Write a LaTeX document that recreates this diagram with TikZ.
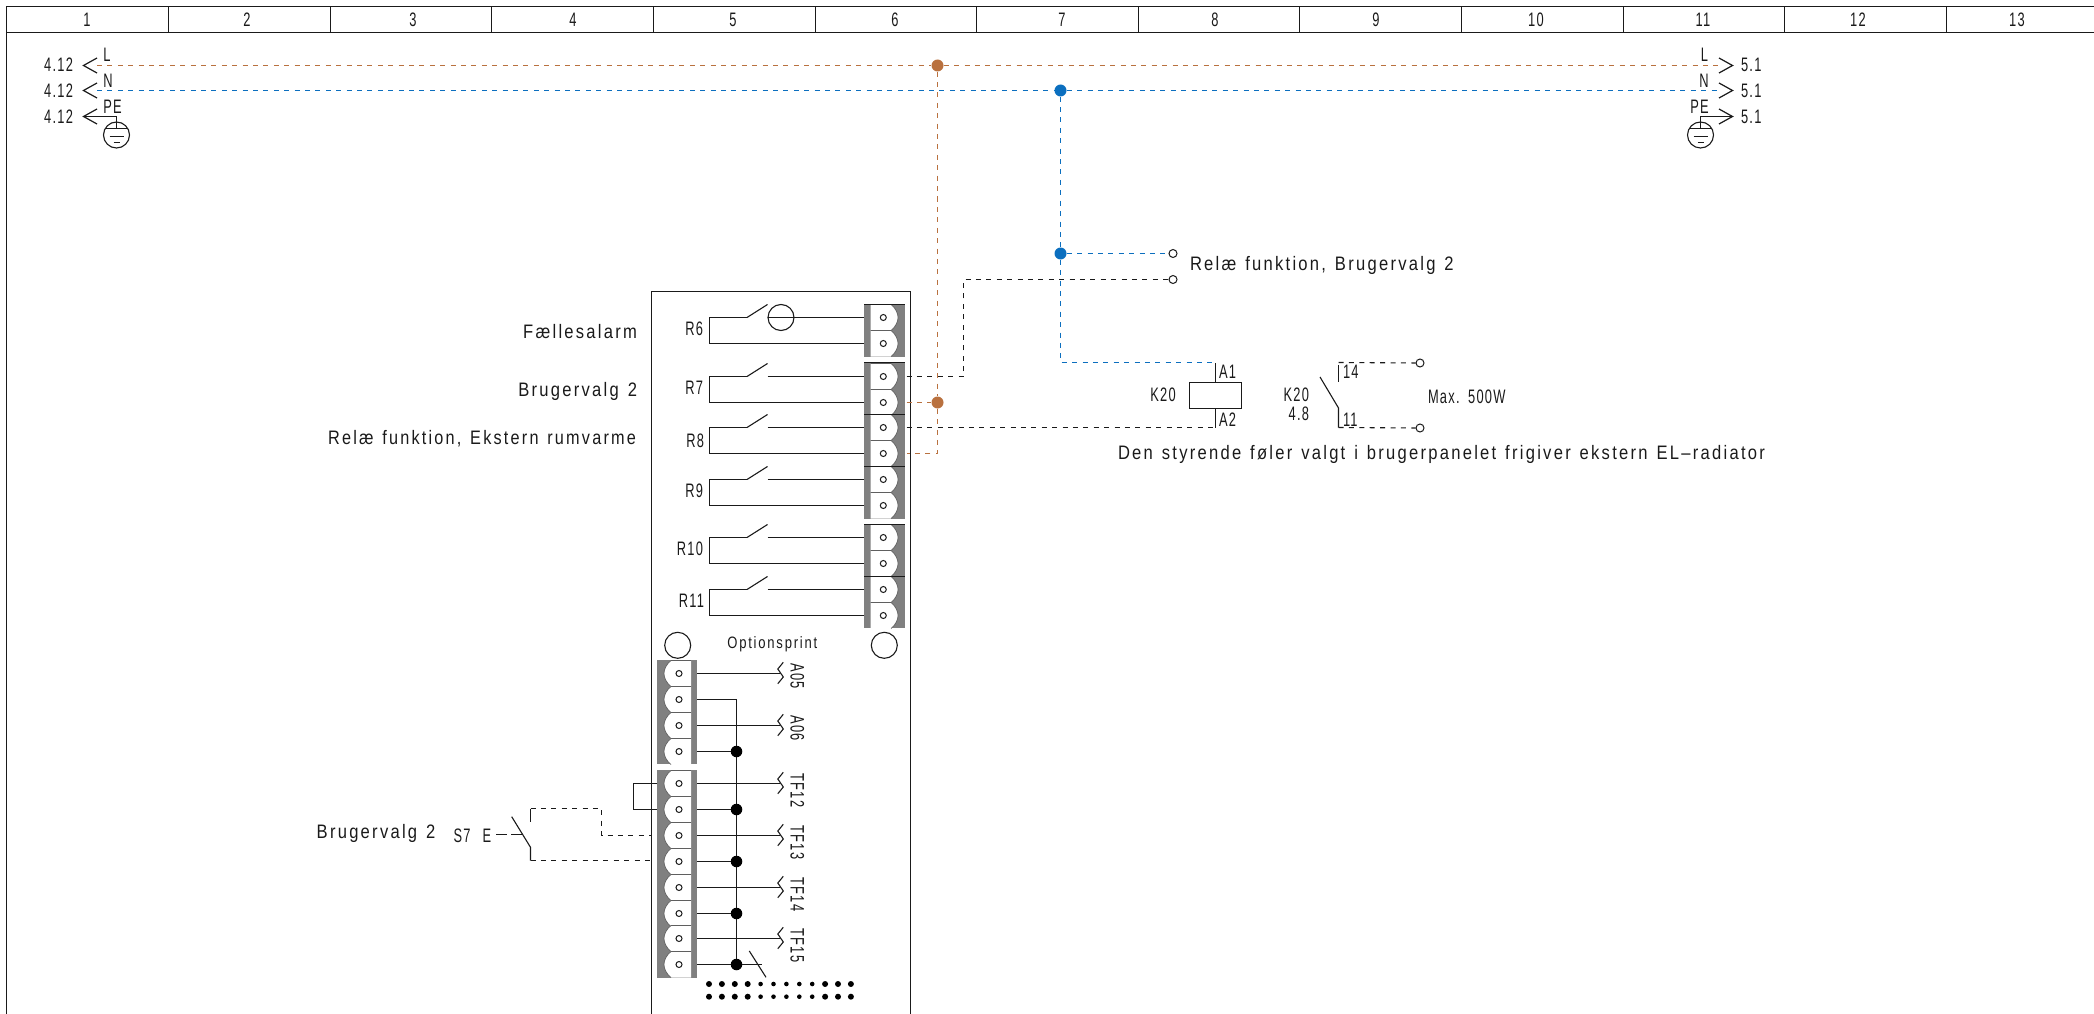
\documentclass[tikz,border=0pt]{standalone}
\usepackage{fontspec}
\setmainfont[FakeStretch=0.85,LetterSpace=11.6,WordSpace=1.3]{Liberation Sans}
\newfontfamily\tightfont[FakeStretch=0.66,LetterSpace=6.5,WordSpace=1.4]{Liberation Sans}
\definecolor{lorange}{HTML}{B9713F}
\definecolor{lblue}{HTML}{0B6FBF}
\definecolor{ink}{HTML}{1A1A1A}
\definecolor{termgray}{HTML}{808080}
\tikzset{
  line/.style={draw=ink,line width=1.2pt},
  thinline/.style={draw=ink,line width=1.1pt},
  dashline/.style={line width=1.1pt,dash pattern=on 5pt off 5.4pt},
  blackdash/.style={dashline,draw=ink},
  orangedash/.style={dashline,draw=lorange},
  bluedash/.style={dashline,draw=lblue},
  txt/.style={inner sep=0pt,outer sep=0pt,text=ink,font=\fontsize{19.5}{19.5}\selectfont},
  lefttxt/.style={txt,anchor=west},
  righttxt/.style={txt,anchor=east},
  tight/.style={font=\fontsize{19.5}{19.5}\selectfont\tightfont},
  ctxt/.style={txt,tight},
  ltxt/.style={lefttxt,tight},
  rtxt/.style={righttxt,tight},
  vtxt/.style={txt,tight,anchor=west,rotate=-90},
  junction/.style={circle,inner sep=0pt,minimum size=#1,draw=none},
  jorange/.style={junction=12pt,fill=lorange},
  jblue/.style={junction=12pt,fill=lblue},
  jblack/.style={junction=11.5pt,fill=black},
  openend/.style={circle,inner sep=0pt,minimum size=8pt,draw=ink,line width=1pt,fill=white},
  hole/.style={circle,inner sep=0pt,minimum size=6pt,draw=ink,line width=1pt,fill=white},
  vee/.style={draw=ink,line width=1.2pt,line join=miter},
}
\begin{document}
\begin{tikzpicture}[x=1pt,y=-1pt]
\useasboundingbox (0,0) rectangle (2094,1014);
% frame
\draw[line] (2094,6.5) -- (6.5,6.5) -- (6.5,1014);
\draw[line] (6.5,32.5) -- (2094,32.5);
\foreach \x in {168,330,491,653,815,976,1138,1299,1461,1623,1784,1946}
  \draw[line] (\x+.5,6.5) -- (\x+.5,32.5);
\foreach \x/\n in {87/1,247/2,413/3,573/4,733/5,895/6,1062/7,1215/8,1376/9,1536/10,1703/11,1858/12,2017/13}
  \node[ctxt] (col\n) at (\x,20) {\n};

% supply bus
\coordinate (Lw) at (97,65.5); \coordinate (Le) at (1720,65.5);
\coordinate (Nw) at (97,90.5); \coordinate (Ne) at (1720,90.5);
\node[jorange] (jL) at (937.5,65.5) {};
\node[jblue] (jN) at (1060.5,90.5) {};
\node[jblue] (jN2) at (1060.5,253.5) {};
\node[jorange] (jT) at (937.5,402.5) {};
\draw[orangedash] (Lw) -- (jL) -- (Le);
\draw[bluedash] (Nw) -- (jN) -- (Ne);
\foreach \yy in {65.5,90.5,116.5}{
  \draw[vee] (97,\yy-7.5) -- (83.5,\yy) -- (97,\yy+7.5);
  \draw[vee] (1719,\yy-7.5) -- (1732.5,\yy) -- (1719,\yy+7.5);
}
\foreach \yy/\n in {65/a,90.7/b,116.7/c}{
  \node[rtxt] (ref\n) at (73,\yy) {4.12};
  \node[ltxt] (rfr\n) at (1741,\yy) {5.1};
}
\node[ctxt] (lblL) at (107,55) {L};
\node[ctxt] (lblN) at (108,81) {N};
\node[ctxt] (lblPE) at (112.5,107) {PE};
\node[ctxt] (rblL) at (1704.5,55) {L};
\node[ctxt] (rblN) at (1704,81) {N};
\node[ctxt] (rblPE) at (1699.5,107) {PE};
% earth symbols
\foreach \ex/\ax/\n in {116.5/84/a,1700.5/1732/b}{
  \draw[thinline] (\ax,116.5) -- (\ex,116.5) -- (\ex,128.5);
  \draw[thinline] (\ex,135) circle (13);
  \draw[thinline] (\ex-10.5,128.5) -- (\ex+10.5,128.5);
  \draw[thinline] (\ex-7,136.5) -- (\ex+7,136.5);
  \draw[thinline] (\ex-3,142.5) -- (\ex+3,142.5);
}

% board
\draw[line] (651.5,1014) -- (651.5,291.5) -- (910.5,291.5) -- (910.5,1014);

% right-hand terminal blocks
\fill[termgray] (864.3,304.3) rectangle (904.7,357);
\fill[termgray] (864.3,362.7) rectangle (904.7,518.7);
\fill[termgray] (864.3,524.3) rectangle (904.7,628.3);
\foreach \i/\yy in {1/317.5,2/343.5,3/376.5,4/402.5,5/427.5,6/453.5,7/479.5,8/505.5,9/537.5,10/563.5,11/589.5,12/615.5}{
  \fill[white] (870.7,\yy-13) -- (891,\yy-13) .. controls (896,\yy-9) and (898,\yy-4) .. (898,\yy)
     .. controls (898,\yy+4) and (896,\yy+9) .. (891,\yy+13) -- (870.7,\yy+13) -- cycle;
  \draw[ink!70,line width=.7pt] (870.7,\yy-13) -- (891,\yy-13) .. controls (896,\yy-9) and (898,\yy-4) .. (898,\yy)
     .. controls (898,\yy+4) and (896,\yy+9) .. (891,\yy+13);
  \node[hole] (rh\i) at (883.3,\yy) {};
  \coordinate (rl\i) at (864.3,\yy);
  \coordinate (rr\i) at (906.5,\yy);
}
\foreach \yy in {304.5,362.5,414.5,466.5,524.5,576.5}
  \draw[line] (864.3,\yy) -- (904.7,\yy);

% relays
\foreach \yt/\a/\b/\c in {376.5/rl3/rl4/R7,427.5/rl5/rl6/R8,479.5/rl7/rl8/R9,537.5/rl9/rl10/R10,589.5/rl11/rl12/R11}{
  \coordinate (sw\c) at (709.5,\yt);
  \draw[thinline] (767.5,\yt) -- (\a);
  \draw[thinline] (747,\yt) -- (sw\c) -- (sw\c |- \b) -- (\b);
  \draw[thinline] (747,\yt) -- (767.5,\yt-13);
}
\coordinate (swR6) at (709.5,317.5);
\node[circle,inner sep=0pt,minimum size=26pt,draw=ink,line width=1.1pt] (lamp) at (781,317.5) {};
\draw[thinline] (767.7,317.5) -- (rl1);
\draw[thinline] (747,317.5) -- (swR6) -- (swR6 |- rl2) -- (rl2);
\draw[thinline] (747,317.5) -- (767.5,304.5);
\node[rtxt] (R6) at (703,328.3) {R6};
\node[rtxt] (R7) at (703,388) {R7};
\node[rtxt] (R8) at (704,440.7) {R8};
\node[rtxt] (R9) at (703,490.7) {R9};
\node[rtxt] (R10) at (703,548.7) {R10};
\node[rtxt] (R11) at (704,600.7) {R11};
\node[righttxt] (tFa) at (637,332) {Fællesalarm};
\node[righttxt] (tBr) at (637,391) {Brugervalg 2};
\node[righttxt,xscale=.98,transform shape] (tRe) at (636,439) {Relæ funktion, Ekstern rumvarme};

% mounting holes
\node[circle,inner sep=0pt,minimum size=26pt,draw=ink,line width=1.1pt] (mh1) at (677.7,645.3) {};
\node[circle,inner sep=0pt,minimum size=26pt,draw=ink,line width=1.1pt] (mh2) at (884.3,645.3) {};
\node[txt,font=\fontsize{16.5}{16.5}\selectfont,xscale=.93,transform shape] (opt) at (772.3,644) {Optionsprint};

% lower terminal blocks
\fill[termgray] (657.3,660) rectangle (697.3,764);
\fill[termgray] (657.3,770.3) rectangle (697.3,977.7);
\foreach \i/\yy in {1/673.5,2/699.5,3/725.5,4/751.5,5/783.5,6/809.5,7/835.5,8/861.5,9/887.5,10/913.5,11/938.5,12/964.5}{
  \fill[white] (691,\yy-13) -- (671,\yy-13) .. controls (666,\yy-9) and (664,\yy-4) .. (664,\yy)
     .. controls (664,\yy+4) and (666,\yy+9) .. (671,\yy+13) -- (691,\yy+13) -- cycle;
  \draw[ink!70,line width=.7pt] (691,\yy-13) -- (671,\yy-13) .. controls (666,\yy-9) and (664,\yy-4) .. (664,\yy)
     .. controls (664,\yy+4) and (666,\yy+9) .. (671,\yy+13);
  \node[hole] (lh\i) at (679,\yy) {};
  \coordinate (lr\i) at (697.3,\yy);
  \coordinate (ll\i) at (657.3,\yy);
  \coordinate (lo\i) at (651.7,\yy);
}

% bus on option board
\coordinate (busTop) at (736.5,699.5);
\coordinate (busBot) at (736.5,964.5);
\draw[thinline] (lr2) -- (busTop) -- (busBot);
\foreach \i/\n in {4/a,6/b,8/c,10/d,12/e}{
  \node[jblack] (bd\n) at (736.5,0 |- lr\i) {};
  \draw[thinline] (lr\i) -- (bd\n);
}
\coordinate (stubE) at (761.7,964.5);
\draw[thinline] (bde) -- (stubE);
\coordinate (slashA) at (749.3,951);
\coordinate (slashB) at (766,977.3);
\draw[thinline] (slashA) -- (slashB);
% signal outputs
\foreach \i/\lab in {1/A05,3/A06,5/TF12,7/TF13,9/TF14,11/TF15}{
  \coordinate (sig\lab) at (780,0 |- lr\i);
  \draw[thinline] (lr\i) -- (sig\lab);
  \path (lr\i) ++(86,-11.2) coordinate (za\lab) ++(-5.5,6.7) coordinate (zb\lab) ++(5.5,8) coordinate (zc\lab) ++(-5.5,6.7) coordinate (zd\lab);
  \draw[thinline] (za\lab) -- (zb\lab) -- (zc\lab) -- (zd\lab);
  \path (lr\i) ++(100,-10) node[vtxt] (lab\lab) {\lab};
}
% connector pins
\foreach \k in {0,...,11}{
  \pgfmathsetmacro{\px}{709+\k*12.9}
  \pgfmathsetmacro{\pr}{(\k>=4 && \k<=8) ? 2.3 : 3}
  \fill[black] (\px,984) circle (\pr);
  \fill[black] (\px,996.7) circle (\pr);
}

% jumper and S7 switch
\coordinate (jpa) at (633.5,0 |- ll5);
\coordinate (jpb) at (633.5,0 |- ll6);
\draw[thinline] (ll5) -- (jpa) -- (jpb) -- (ll6);
\coordinate (s7a) at (530.5,808.5);
\coordinate (s7b) at (530.5,860.5);
\coordinate (s7c) at (601.5,808.5);
\draw[blackdash] (s7a) -- (s7c) -- (s7c |- lo7) -- (lo7);
\draw[blackdash] (s7b) -- (s7b -| lo8);
\draw[thinline] (s7a) -- (530.5,821.7);
\draw[thinline] (s7b) -- (530.5,847.3) -- (511.7,816.7);
\draw[thinline] (496,834.5) -- (507,834.5);
\draw[thinline] (511,834.5) -- (521.5,834.5);
\node[ctxt] (tE) at (487,835.5) {E};
\node[ctxt] (tS7) at (462,835.5) {S7};
\node[lefttxt] (tBr2) at (316.7,833) {Brugervalg 2};

% right circuit
\node[openend] (oe1) at (1173,253.5) {};
\node[openend] (oe2) at (1173,279.5) {};
\node[openend] (oe3) at (1420,363) {};
\node[openend] (oe4) at (1420,428) {};
\coordinate (bk1) at (963.5,0 |- rr3);
\coordinate (bk2) at (963.5,279.5);
\draw[blackdash] (rr3) -- (bk1) -- (bk2) -- (oe2);
\coordinate (ok1) at (937.5,0 |- rr6);
\draw[orangedash] (jL) -- (jT) -- (ok1) -- (rr6);
\draw[orangedash] (rr4) -- (jT);
\coordinate (bl1) at (1060.5,362.5);
\coordinate (bl2) at (1215.5,362.5);
\draw[bluedash] (jN) -- (jN2) -- (oe1);
\draw[bluedash] (jN2) -- (bl1) -- (bl2);
\node[draw=ink,line width=1.2pt,minimum width=52pt,minimum height=26pt,inner sep=0pt] (coil) at (1215.5,395.5) {};
\coordinate (a2end) at (coil.south |- rr5);
\draw[thinline] (coil.north) -- (bl2);
\draw[thinline] (coil.south) -- (a2end);
\draw[blackdash] (rr5) -- (a2end);
\coordinate (c14) at (1338.5,362.5);
\coordinate (c11) at (1338.5,427.5);
\draw[blackdash] (c14) -- (oe3);
\draw[blackdash] (c11) -- (oe4);
\draw[thinline] (1338.5,365) -- (1338.5,382);
\draw[thinline] (1320,377) -- (1338.5,408) -- (c11);
\node[lefttxt] (tRb) at (1190,265) {Relæ funktion, Brugervalg 2};
\node[ctxt] (tK1) at (1163,395) {K20};
\node[ltxt] (tA1) at (1219,372) {A1};
\node[ltxt] (tA2) at (1219,420) {A2};
\node[rtxt] (tK2) at (1309,395) {K20};
\node[rtxt] (tK3) at (1309,414) {4.8};
\node[ltxt] (t14) at (1343,372) {14};
\node[ltxt] (t11) at (1343,420) {11};
\node[ltxt] (tMax) at (1428,397) {Max. 500W};
\node[lefttxt] (tDen) at (1118,454) {Den styrende føler valgt i brugerpanelet frigiver ekstern EL–radiator};
\end{tikzpicture}
\end{document}
